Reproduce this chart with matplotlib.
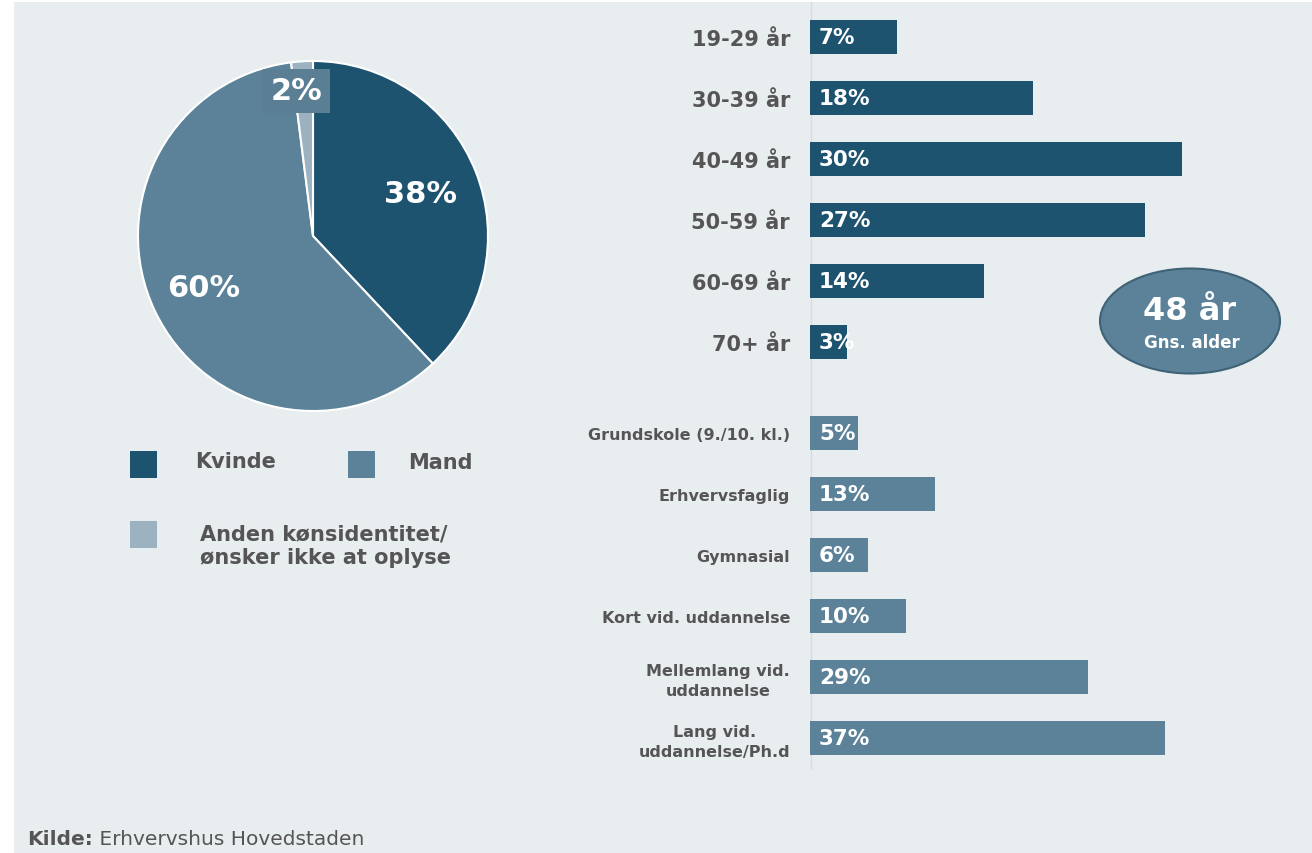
import matplotlib
matplotlib.use("Agg")
import matplotlib.pyplot as plt
from matplotlib.patches import Rectangle, Ellipse
from matplotlib.lines import Line2D
import numpy as np

# ---------------- data ----------------
gender_labels = ["Kvinde", "Mand", "Anden kønsidentitet/\nønsker ikke at oplyse"]
gender_values = [38, 60, 2]

age_labels = ["19-29 år", "30-39 år", "40-49 år", "50-59 år", "60-69 år", "70+ år"]
age_values = [7, 18, 30, 27, 14, 3]

edu_labels = ["Grundskole (9./10. kl.)", "Erhvervsfaglig", "Gymnasial",
              "Kort vid. uddannelse", "Mellemlang vid.\nuddannelse",
              "Lang vid.\nuddannelse/Ph.d"]
edu_values = [5, 13, 6, 10, 29, 37]

avg_age_text = "48 år"
avg_age_sub = "Gns. alder"
source_bold = "Kilde:"
source_text = " Erhvervshus Hovedstaden"

# ---------------- style ----------------
W, H = 1312, 854
BG = "#e8edf0"
DARK = "#1e5370"
MID = "#5b8298"
LIGHT = "#9cb2c0"
TXT = "#555555"
FONT = "DejaVu Sans"

fig = plt.figure(figsize=(W / 100, H / 100), dpi=100, facecolor="white")


def px_axes(x0, y0, w, h):
    return fig.add_axes([x0 / W, 1 - (y0 + h) / H, w / W, h / H])


# background panel
fig.patches.append(Rectangle((14 / W, 0), 1 - 14 / W, 1 - 3 / H,
                             transform=fig.transFigure, facecolor=BG,
                             edgecolor="none", zorder=-10))

# ---------------- pie ----------------
cx, cy, R = 313, 237, 175
axp = px_axes(cx - R, cy - R, 2 * R, 2 * R)
wedges, _ = axp.pie(gender_values, colors=[DARK, MID, LIGHT], startangle=90,
                    counterclock=False, radius=1,
                    wedgeprops=dict(edgecolor="white", linewidth=1.5))
axp.set_xlim(-1, 1)
axp.set_ylim(-1, 1)
axp.set_aspect("equal")
axp.axis("off")
label_r = [0.66, 0.69, 0.835]
label_shift = [0, 0, 2.7]
for w, v, r, s in zip(wedges, gender_values, label_r, label_shift):
    ang = np.deg2rad((w.theta1 + w.theta2) / 2 + s)
    x, y = r * np.cos(ang), r * np.sin(ang)
    kw = {}
    if v < 5:
        kw["bbox"] = dict(boxstyle="square,pad=0.25", facecolor="#5a7f94",
                          edgecolor="none")
    axp.text(x, y, f"{v}%", ha="center", va="center", color="white",
             fontsize=22, fontweight="bold", family=FONT, **kw)

# ---------------- legend ----------------
leg_items = [(130, 452, 0), (348, 452, 1), (130, 522, 2)]
leg_text_pos = [(195, 462), (408, 463), (200, 546)]
for (lx, ly, i), (tx, ty) in zip(leg_items, leg_text_pos):
    fig.patches.append(Rectangle((lx / W, 1 - (ly + 27) / H), 27 / W, 27 / H,
                                 transform=fig.transFigure,
                                 facecolor=[DARK, MID, LIGHT][i],
                                 edgecolor="none"))
    fig.text(tx / W, 1 - ty / H, gender_labels[i], ha="left", va="center",
             fontsize=15, fontweight="bold", color=TXT, family=FONT,
             linespacing=1.2)

# ---------------- bar charts ----------------
def bar_panel(top, labels, values, color, xmax, fs):
    n = len(values)
    ax = px_axes(810, top, W - 810, 61 * n)
    y = np.arange(n)
    ax.barh(y, values, height=34 / 61, color=color, left=0)
    ax.set_xlim(0, xmax)
    ax.set_ylim(n - 0.5, -0.5)
    ax.set_yticks(y)
    ax.set_yticklabels(labels, fontsize=fs, fontweight="bold", color=TXT,
                       family=FONT, linespacing=1.4)
    ax.tick_params(axis="y", length=0, pad=20 * 72 / 100)
    ax.set_xticks([])
    for sp in ax.spines.values():
        sp.set_visible(False)
    ax.patch.set_visible(False)
    for t in ax.get_yticklabels():
        t.set_multialignment("center")
    for yi, v in zip(y, values):
        ax.annotate(f"{v}%", xy=(0, yi), xytext=(9, 0),
                    textcoords="offset pixels", ha="left", va="center",
                    color="white", fontsize=15.5, fontweight="bold",
                    family=FONT)
    return ax


ax_age = bar_panel(7.5, age_labels, age_values, DARK, (W - 810) / 12.4, 15)
ax_edu = bar_panel(403.5, edu_labels, edu_values, MID, (W - 810) / 9.6, 11.5)

# vertical baseline
fig.add_artist(Line2D([810.5 / W, 810.5 / W], [1 - 770 / H, 1 - 3 / H],
                      transform=fig.transFigure, color="#d6dde2", lw=1,
                      zorder=-5))

# ---------------- average age bubble ----------------
fig.patches.append(Ellipse((1190 / W, 1 - 322 / H), 180 / W, 105 / H,
                           transform=fig.transFigure, facecolor=MID,
                           edgecolor="#3f6277", lw=1.5))
fig.text(1190 / W, 1 - 311 / H, avg_age_text, ha="center", va="center",
         color="white", fontsize=23, fontweight="bold", family=FONT)
fig.text(1192 / W, 1 - 343 / H, avg_age_sub, ha="center", va="center",
         color="white", fontsize=12, fontweight="bold", family=FONT)

# ---------------- source ----------------
t1 = fig.text(27 / W, 1 - 840 / H, source_bold, ha="left", va="center",
              fontsize=14.5, fontweight="bold", color="#555555",
              family=FONT)
fig.canvas.draw()
bb = t1.get_window_extent()
fig.text(bb.x1 / W, 1 - 840 / H, source_text, ha="left", va="center",
         fontsize=14.5, color="#555555", family=FONT)

fig.savefig("out.png", dpi=100, facecolor=fig.get_facecolor())
